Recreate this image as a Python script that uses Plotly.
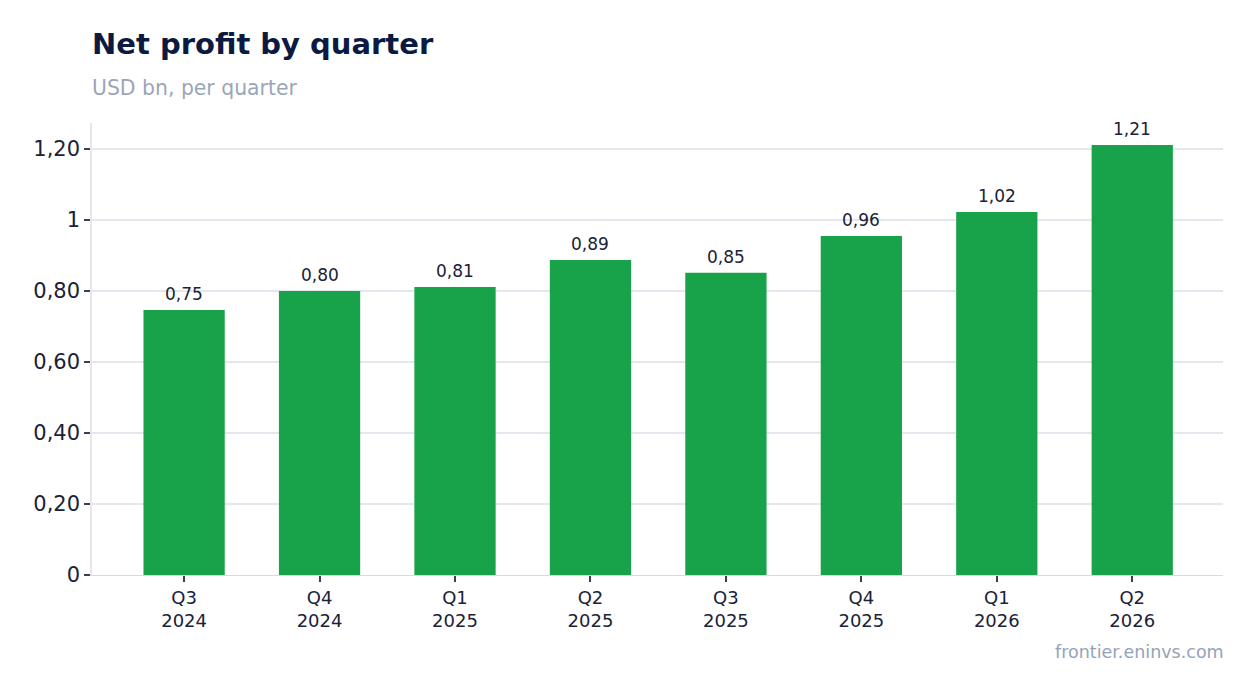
import plotly.graph_objects as go

quarters = ["Q3<br>2024", "Q4<br>2024", "Q1<br>2025", "Q2<br>2025",
            "Q3<br>2025", "Q4<br>2025", "Q1<br>2026", "Q2<br>2026"]
net_profit = [0.746, 0.800, 0.811, 0.887, 0.851, 0.955, 1.022, 1.211]
bar_labels = ["0,75", "0,80", "0,81", "0,89", "0,85", "0,96", "1,02", "1,21"]
y_tickvals = [0, 0.2, 0.4, 0.6, 0.8, 1.0, 1.2]
y_ticktext = ["0", "0,20", "0,40", "0,60", "0,80", "1", "1,20"]

FONT = "DejaVu Sans"

L, T = 84, 115
PLOT_H = 452

fig = go.Figure(go.Bar(
    x=quarters, y=net_profit,
    marker=dict(color="#18a34a", line=dict(width=0)),
    cliponaxis=False,
    width=0.6,
    hoverinfo="x+y",
))

label_annotations = [
    dict(x=q, y=v, xref="x", yref="y", text=t, showarrow=False,
         yanchor="bottom", yshift=4,
         font=dict(family=FONT, size=17, color="#1a2238"))
    for q, v, t in zip(quarters, net_profit, bar_labels)
]

fig.update_layout(
    width=1254, height=693,
    margin=dict(l=L, r=39, t=T, b=693 - T - PLOT_H),
    paper_bgcolor="white", plot_bgcolor="white",
    showlegend=False,
    font=dict(family=FONT, color="#1a2238"),
    title=dict(text="<b>Net profit by quarter</b>", x=L/1254, xanchor="left",
               y=1-36/693, yanchor="middle",
               font=dict(family=FONT, size=29, color="#0c1a42")),
    xaxis=dict(showgrid=False, showline=True, linecolor="#d5dae3", linewidth=1,
               range=[-0.68, 7.67],
               ticks="outside", ticklen=6, tickcolor="#3a4152", tickwidth=2,
               tickfont=dict(family=FONT, size=18, color="#1a2238")),
    yaxis=dict(range=[0, 1.273], tickvals=y_tickvals, ticktext=y_ticktext,
               showgrid=True, gridcolor="#e4e8ee", gridwidth=1.5,
               showline=True, linecolor="#e4e8ee", linewidth=1.5,
               zeroline=False,
               ticks="outside", ticklen=6, tickcolor="#3a4152", tickwidth=2,
               tickfont=dict(family=FONT, size=21, color="#1a2238")),
    annotations=label_annotations + [
        dict(text="USD bn, per quarter", xref="paper", yref="paper",
             x=0, y=1+(123-88)/PLOT_H, xanchor="left", yanchor="middle",
             xshift=-2,
             showarrow=False, font=dict(family=FONT, size=20.4, color="#9aa6b8")),
        dict(text="frontier.eninvs.com", xref="paper", yref="paper",
             x=1, y=-(652-575)/PLOT_H, xanchor="right", yanchor="middle",
             xshift=3,
             showarrow=False, font=dict(family=FONT, size=17.5, color="#94a3b8")),
    ],
)

fig.write_html("out.html")
